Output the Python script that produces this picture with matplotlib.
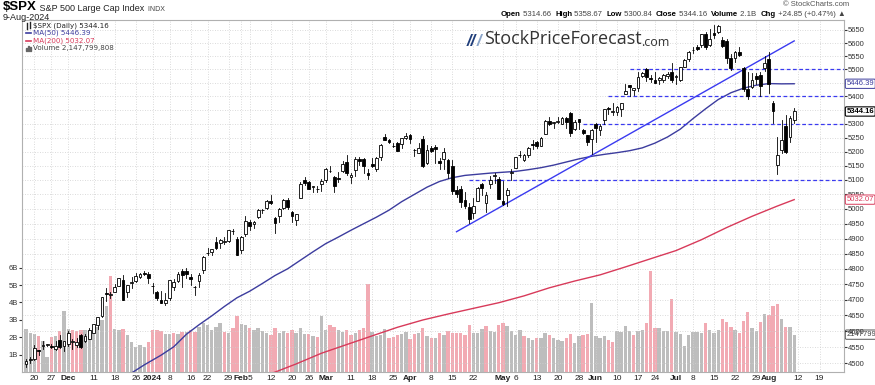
import numpy as np
import pandas as pd
import matplotlib
matplotlib.use('Agg')
import matplotlib.pyplot as plt
from matplotlib.patches import Rectangle
from matplotlib.lines import Line2D

plt.rcParams['font.family'] = ['Liberation Sans', 'DejaVu Sans']

# --- trading days ---
holidays = ['2023-11-23', '2023-12-25', '2024-01-01', '2024-01-15', '2024-02-19',
            '2024-03-29', '2024-05-27', '2024-06-19', '2024-07-04']
days = pd.bdate_range('2023-11-16', '2024-08-30', freq='C', holidays=holidays)

# --- daily OHLC ($SPX) ---
opens = [4497.08, 4509.55, 4511.70, 4538.77, 4553.04, 4555.84, 4554.86, 4545.55, 4571.84, 4554.87,
         4559.43, 4564.37, 4557.25, 4586.23, 4568.84, 4576.20, 4593.39, 4618.30, 4646.20, 4721.04,
         4714.23, 4725.58, 4743.72, 4764.73, 4724.29, 4753.92, 4758.86, 4773.45, 4786.44, 4782.88,
         4745.20, 4725.07, 4697.42, 4690.57, 4703.70, 4741.93, 4759.94, 4792.13, 4791.18, 4772.35,
         4739.13, 4760.10, 4796.28, 4853.42, 4856.80, 4888.56, 4886.66, 4888.91, 4892.95, 4925.89,
         4899.19, 4861.11, 4916.06, 4957.19, 4950.16, 4973.05, 4995.16, 5004.17, 5026.83, 4967.94,
         4976.44, 5003.14, 5031.13, 4989.32, 4963.03, 5038.83, 5100.92, 5093.00, 5074.60, 5067.20,
         5085.36, 5098.51, 5130.99, 5110.52, 5108.03, 5132.38, 5164.46, 5111.96, 5134.30, 5173.49,
         5175.14, 5123.31, 5154.77, 5139.09, 5181.69, 5253.43, 5242.48, 5219.52, 5228.85, 5226.31,
         5248.03, 5257.97, 5204.29, 5194.37, 5244.05, 5158.95, 5211.37, 5217.03, 5167.88, 5172.95,
         5171.51, 5149.67, 5064.59, 5068.97, 5031.52, 5005.44, 4987.33, 5028.85, 5084.65, 5019.88,
         5084.65, 5114.13, 5103.78, 5029.03, 5049.32, 5122.78, 5142.42, 5187.20, 5168.98, 5189.03,
         5225.49, 5233.08, 5221.10, 5263.26, 5310.07, 5303.10, 5305.35, 5298.69, 5319.28, 5340.26,
         5281.45, 5315.91, 5278.73, 5259.77, 5243.21, 5297.15, 5278.24, 5314.48, 5357.80, 5343.81,
         5341.22, 5353.00, 5409.13, 5441.93, 5424.08, 5431.11, 5476.15, 5499.99, 5466.77, 5459.58,
         5460.73, 5460.71, 5473.59, 5488.48, 5471.08, 5461.84, 5507.44, 5537.91, 5572.75, 5584.24,
         5591.26, 5635.21, 5590.76, 5638.16, 5644.09, 5610.07, 5608.56, 5543.37, 5544.86, 5565.30,
         5505.84, 5428.70, 5433.67, 5476.55, 5478.73, 5505.59, 5537.84, 5376.63, 5151.14, 5206.42,
         5293.13, 5252.57, 5314.66]
highs = [4511.99, 4520.12, 4557.11, 4542.14, 4568.43, 4560.31, 4560.52, 4568.14, 4587.64, 4569.89,
         4599.39, 4574.06, 4578.56, 4590.74, 4590.92, 4609.23, 4623.71, 4643.93, 4709.69, 4738.57,
         4725.53, 4749.52, 4768.69, 4778.01, 4748.71, 4772.94, 4784.72, 4785.39, 4793.30, 4788.43,
         4754.33, 4729.29, 4726.78, 4721.49, 4764.54, 4765.47, 4790.80, 4798.50, 4802.40, 4782.34,
         4744.23, 4785.79, 4842.07, 4868.41, 4866.48, 4903.68, 4898.15, 4906.69, 4929.31, 4931.09,
         4906.75, 4906.97, 4975.29, 4963.44, 4957.77, 4999.89, 5000.40, 5030.06, 5048.39, 4971.30,
         5002.52, 5032.72, 5038.70, 4993.71, 4983.21, 5094.39, 5111.06, 5097.66, 5080.69, 5077.37,
         5104.99, 5140.33, 5149.67, 5114.54, 5127.97, 5165.62, 5189.26, 5124.66, 5179.87, 5179.14,
         5176.85, 5136.86, 5175.60, 5180.31, 5226.19, 5261.10, 5246.09, 5229.09, 5235.16, 5249.26,
         5264.85, 5263.95, 5208.34, 5228.75, 5256.59, 5222.18, 5219.57, 5224.81, 5178.43, 5211.78,
         5175.03, 5168.43, 5079.84, 5077.96, 5056.66, 5019.02, 5038.84, 5076.12, 5089.48, 5057.75,
         5114.62, 5123.49, 5110.83, 5096.12, 5073.21, 5139.12, 5181.00, 5200.23, 5191.95, 5215.30,
         5239.66, 5237.26, 5250.37, 5311.76, 5325.49, 5305.45, 5325.32, 5324.32, 5323.18, 5341.88,
         5311.65, 5315.91, 5282.27, 5260.21, 5280.33, 5302.11, 5298.80, 5354.16, 5362.35, 5375.08,
         5365.79, 5375.95, 5447.25, 5441.93, 5432.39, 5488.50, 5490.38, 5505.53, 5478.31, 5490.66,
         5472.88, 5483.14, 5490.81, 5523.64, 5479.55, 5509.69, 5539.27, 5570.33, 5583.11, 5590.75,
         5635.39, 5642.45, 5655.56, 5670.39, 5669.67, 5622.49, 5614.05, 5557.50, 5570.36, 5585.34,
         5508.04, 5491.59, 5488.32, 5487.74, 5489.46, 5551.51, 5566.16, 5383.89, 5250.89, 5312.34,
         5330.64, 5328.03, 5358.67]
lows = [4487.83, 4499.66, 4510.36, 4525.51, 4545.05, 4552.80, 4546.32, 4540.51, 4547.15, 4537.24,
        4554.71, 4544.48, 4551.68, 4546.50, 4565.22, 4574.06, 4593.39, 4608.09, 4643.23, 4694.34,
        4704.69, 4725.58, 4743.72, 4697.82, 4708.35, 4736.77, 4758.45, 4768.90, 4780.98, 4751.99,
        4722.67, 4699.71, 4687.53, 4682.11, 4699.82, 4730.35, 4756.20, 4739.58, 4768.98, 4747.12,
        4714.82, 4740.57, 4785.87, 4844.05, 4844.37, 4865.94, 4869.34, 4881.47, 4887.40, 4916.27,
        4845.15, 4853.52, 4907.99, 4927.41, 4934.88, 4969.05, 4987.09, 5000.34, 5016.83, 4920.31,
        4956.45, 4999.44, 4999.52, 4955.02, 4946.00, 5038.83, 5081.46, 5068.91, 5057.29, 5058.35,
        5061.89, 5094.16, 5127.18, 5056.82, 5092.22, 5128.21, 5117.50, 5091.14, 5114.48, 5151.88,
        5123.30, 5104.35, 5145.47, 5131.59, 5171.55, 5240.66, 5229.87, 5216.09, 5203.42, 5213.92,
        5245.82, 5229.20, 5184.05, 5194.37, 5146.06, 5157.21, 5197.35, 5160.78, 5138.70, 5138.77,
        5107.94, 5052.47, 5039.83, 5007.25, 5001.89, 4953.56, 4969.40, 5027.96, 5047.02, 4990.58,
        5073.14, 5088.65, 5035.31, 5013.45, 5011.05, 5101.22, 5142.42, 5178.96, 5165.86, 5180.41,
        5209.68, 5211.16, 5217.98, 5263.26, 5296.19, 5283.59, 5302.40, 5297.87, 5286.01, 5256.93,
        5278.39, 5280.89, 5262.70, 5222.10, 5191.68, 5234.32, 5257.63, 5297.64, 5335.36, 5331.33,
        5331.52, 5327.25, 5409.13, 5402.51, 5403.75, 5420.40, 5471.32, 5455.56, 5452.03, 5447.59,
        5446.56, 5451.87, 5467.54, 5451.12, 5446.53, 5458.43, 5507.42, 5531.63, 5562.51, 5574.57,
        5586.44, 5576.53, 5590.44, 5619.85, 5639.02, 5584.81, 5522.81, 5497.04, 5529.04, 5550.90,
        5419.98, 5390.95, 5430.70, 5444.44, 5401.54, 5493.75, 5410.42, 5302.03, 5119.26, 5193.56,
        5195.54, 5233.85, 5300.84]
closes = [4508.24, 4514.02, 4547.38, 4538.19, 4556.62, 4559.34, 4550.43, 4554.89, 4550.58, 4567.80,
          4594.63, 4569.78, 4567.18, 4549.34, 4585.59, 4604.37, 4622.44, 4643.70, 4707.09, 4719.55,
          4719.19, 4740.56, 4768.37, 4698.35, 4746.75, 4754.63, 4774.75, 4781.58, 4783.35, 4769.83,
          4742.83, 4704.81, 4688.68, 4697.24, 4763.54, 4756.50, 4783.45, 4780.24, 4783.83, 4765.98,
          4739.21, 4780.94, 4839.81, 4850.43, 4864.60, 4868.55, 4894.16, 4890.97, 4927.93, 4924.97,
          4845.65, 4906.19, 4958.61, 4942.81, 4954.23, 4995.06, 4997.91, 5026.61, 5021.84, 4953.17,
          5000.62, 5029.73, 5005.57, 4975.51, 4981.80, 5087.03, 5088.80, 5069.53, 5078.18, 5069.76,
          5096.27, 5137.08, 5130.95, 5078.65, 5104.76, 5157.36, 5123.69, 5117.94, 5175.27, 5165.31,
          5150.48, 5117.09, 5149.42, 5178.51, 5224.62, 5241.53, 5234.18, 5218.19, 5203.58, 5248.49,
          5254.35, 5243.77, 5205.81, 5211.49, 5147.21, 5204.34, 5202.39, 5209.91, 5160.64, 5199.06,
          5123.41, 5061.82, 5051.41, 5022.21, 5011.12, 4967.23, 5010.60, 5070.55, 5071.63, 5048.42,
          5099.96, 5116.17, 5035.69, 5018.39, 5064.20, 5127.79, 5180.74, 5187.70, 5187.67, 5214.08,
          5222.68, 5221.42, 5246.68, 5308.15, 5297.10, 5303.27, 5308.13, 5321.41, 5307.01, 5267.84,
          5304.72, 5306.04, 5266.95, 5235.48, 5277.51, 5283.40, 5291.34, 5354.03, 5352.96, 5346.99,
          5360.79, 5375.32, 5421.03, 5433.74, 5431.60, 5473.23, 5487.03, 5473.17, 5464.62, 5447.87,
          5469.30, 5477.90, 5482.87, 5460.48, 5475.09, 5509.01, 5537.02, 5567.19, 5572.85, 5576.98,
          5633.91, 5584.54, 5615.35, 5631.22, 5667.20, 5588.27, 5544.59, 5505.00, 5564.41, 5555.74,
          5427.13, 5399.22, 5459.10, 5463.54, 5436.44, 5522.30, 5446.68, 5346.56, 5186.33, 5240.03,
          5199.50, 5319.31, 5344.16]
# volume, billions
volume = [2.48, 2.26, 2.2, 2.05, 1.77, 0.87, 2.0, 2.06, 2.38, 3.5,
          2.5, 2.4, 2.35, 2.4, 2.4, 2.4, 2.45, 2.6, 3.0, 3.8,
          5.5, 2.5, 2.4, 2.5, 2.1, 1.75, 1.45, 1.55, 1.45, 1.75,
          2.4, 2.4, 2.35, 2.2, 2.2, 2.25, 2.2, 2.3, 2.3, 2.4,
          2.3, 2.6, 2.8, 2.7, 2.4, 2.6, 2.82, 2.3, 2.25, 2.53,
          3.2, 2.76, 2.69, 2.53, 2.44, 2.53, 2.34, 2.25, 2.15, 2.53,
          2.25, 2.34, 2.25, 2.44, 2.25, 2.53, 2.2, 2.2, 2.05, 2.0,
          3.24, 2.4, 2.69, 2.57, 2.44, 2.3, 2.44, 2.11, 2.25, 2.4,
          2.53, 5.08, 2.3, 2.05, 2.15, 2.48, 1.96, 2.0, 2.15, 2.2,
          2.3, 1.9, 2.2, 2.25, 2.53, 2.09, 1.96, 1.96, 2.25, 2.15,
          2.35, 2.25, 2.25, 2.22, 2.12, 2.68, 2.25, 2.25, 2.5, 2.63,
          2.34, 2.3, 2.72, 2.82, 2.63, 2.34, 2.15, 2.44, 2.05, 1.96,
          1.86, 1.96, 1.96, 2.25, 2.12, 1.96, 1.86, 1.77, 1.96, 2.19,
          1.67, 2.05, 2.15, 2.19, 3.97, 2.05, 1.96, 2.05, 1.86, 1.73,
          2.38, 2.3, 2.67, 2.34, 2.15, 2.34, 2.43, 2.8, 5.79, 2.53,
          2.53, 2.38, 2.38, 4.22, 2.3, 2.2, 1.5, 2.1, 2.3, 2.3,
          2.25, 2.8, 2.43, 2.25, 2.43, 3.06, 2.88, 2.58, 2.43, 2.25,
          2.92, 3.43, 2.53, 2.34, 2.88, 3.33, 3.25, 3.82, 3.9, 3.06,
          2.58, 2.57, 2.1478]

# moving averages
ma50_dates = ['2023-12-21', '2023-12-28', '2024-01-04', '2024-01-09', '2024-01-12', '2024-01-18',
              '2024-01-23', '2024-01-26', '2024-01-31', '2024-02-05', '2024-02-08', '2024-02-13',
              '2024-02-16', '2024-02-22', '2024-02-27', '2024-03-01', '2024-03-06', '2024-03-11',
              '2024-03-14', '2024-03-19', '2024-03-22', '2024-03-27', '2024-04-02', '2024-04-05',
              '2024-04-10', '2024-04-15', '2024-04-18', '2024-04-23', '2024-04-26', '2024-05-01',
              '2024-05-06', '2024-05-09', '2024-05-14', '2024-05-17', '2024-05-22', '2024-05-28',
              '2024-05-31', '2024-06-05', '2024-06-10', '2024-06-13', '2024-06-18', '2024-06-24',
              '2024-06-27', '2024-07-02', '2024-07-08', '2024-07-11', '2024-07-16', '2024-07-19',
              '2024-07-24', '2024-07-29', '2024-08-01', '2024-08-06', '2024-08-09']
ma50_vals = [4462, 4495, 4525, 4551, 4590, 4620, 4648, 4678, 4706, 4727, 4752, 4778, 4800, 4828,
             4856, 4883, 4905, 4928, 4950, 4972, 4996, 5025, 5050, 5075, 5095, 5108, 5116, 5120,
             5124, 5127, 5130, 5136, 5143, 5152, 5163, 5174, 5183, 5190, 5196, 5203, 5213, 5230,
             5252, 5280, 5318, 5354, 5388, 5413, 5430, 5441, 5447, 5446, 5446.39]
ma200_dates = ['2024-02-12', '2024-02-21', '2024-02-29', '2024-03-08', '2024-03-18', '2024-03-26',
               '2024-04-04', '2024-04-12', '2024-04-22', '2024-04-30', '2024-05-08', '2024-05-16',
               '2024-05-24', '2024-06-04', '2024-06-12', '2024-06-21', '2024-07-01', '2024-07-10',
               '2024-07-18', '2024-07-26', '2024-08-05', '2024-08-09']
ma200_vals = [4468, 4498, 4531, 4558, 4585, 4612, 4635, 4654, 4672, 4690, 4712, 4738, 4760, 4780,
              4806, 4833, 4860, 4896, 4937, 4975, 5010, 5032.07]

# analyst lines
trend_dates = ['2024-04-16', '2024-08-09']
trend_vals = [4923, 5608]
level_vals = [5500, 5400, 5300, 5100]
level_start = ['2024-06-13', '2024-06-06', '2024-05-29', '2024-04-19']

tick_dates = ['2023-11-20', '2023-11-27', '2023-12-01', '2023-12-11', '2023-12-18', '2023-12-26',
              '2024-01-02', '2024-01-08', '2024-01-16', '2024-01-22', '2024-01-29', '2024-02-01',
              '2024-02-05', '2024-02-12', '2024-02-20', '2024-02-26', '2024-03-01', '2024-03-11',
              '2024-03-18', '2024-03-25', '2024-04-01', '2024-04-08', '2024-04-15', '2024-04-22',
              '2024-05-01', '2024-05-06', '2024-05-13', '2024-05-20', '2024-05-28', '2024-06-03',
              '2024-06-10', '2024-06-17', '2024-06-24', '2024-07-01', '2024-07-08', '2024-07-15',
              '2024-07-22', '2024-07-29', '2024-08-01', '2024-08-12', '2024-08-19']
tick_labels = ['20', '27', 'Dec', '11', '18', '26', '2024', '8', '16', '22', '29', 'Feb', '5', '12',
               '20', '26', 'Mar', '11', '18', '25', 'Apr', '8', '15', '22', 'May', '6', '13', '20',
               '28', 'Jun', '10', '17', '24', 'Jul', '8', '15', '22', '29', 'Aug', '12', '19']
price_ticks = list(range(4500, 5651, 50))
hidden_ticks = [5450, 5350]   # covered by the value tags


def idx(d):
    return days.get_loc(pd.Timestamp(d))


n = len(closes)
x = np.arange(n)

W, H = 875, 385
L, R, T, B = 22, 844, 20, 372
rect = [L / W, 1 - B / H, (R - L) / W, (B - T) / H]
fig = plt.figure(figsize=(W / 100, H / 100), dpi=100)
axv = fig.add_axes(rect)
ax = fig.add_axes(rect, sharex=axv)
ax.patch.set_alpha(0)

# volume
prev = np.r_[closes[0], closes[:-1]]
vcol = np.where(np.array(closes) < prev, '#f2aab3', '#bdbdbd')
axv.bar(x, volume, width=0.8, color=vcol, linewidth=0)
axv.set_ylim(0, (B - T) / 17.4)
axv.set_yticks([1, 2, 3, 4, 5, 6], ['1B', '2B', '3B', '4B', '5B', '6B'])
axv.tick_params(axis='y', labelsize=5.5, length=2, colors='#333333', pad=1)
axv.tick_params(axis='x', bottom=False, labelbottom=False)
for s in axv.spines.values():
    s.set_visible(False)

# price panel
ax.set_yscale('log')
ax.set_ylim(4473.3, 5688.7)
ax.set_xlim(-0.95, 193.8)
ax.yaxis.tick_right()
ax.set_yticks(price_ticks, ['' if p in hidden_ticks else str(p) for p in price_ticks])
ax.yaxis.set_minor_locator(matplotlib.ticker.NullLocator())
ax.tick_params(axis='y', labelsize=5.5, length=2, colors='#333333', pad=1)
ax.set_xticks([idx(d) for d in tick_dates], tick_labels)
ax.tick_params(axis='x', labelsize=6, length=0, pad=2, colors='#222222')
for t in ax.get_xticklabels():
    if not t.get_text().isdigit() or t.get_text() == '2024':
        t.set_fontweight('bold')
ax.grid(True, color='#cfcfcf', linestyle=(0, (1, 2)), linewidth=0.6)
for s in ax.spines.values():
    s.set_color('#b0b0b0')
    s.set_linewidth(0.8)

# moving averages
ax.plot([idx(d) for d in ma200_dates], ma200_vals, color='#d83a5a', lw=1.0, zorder=3)
ax.plot([idx(d) for d in ma50_dates], ma50_vals, color='#3c3c9e', lw=1.0, zorder=3)

# analyst lines
ax.plot([idx(d) for d in trend_dates], trend_vals, color='#3a3af0', lw=1.0, zorder=3)
for v, d in zip(level_vals, level_start):
    ax.plot([idx(d), 193.8], [v, v], color='#3a3af0', lw=0.9, ls=(0, (3, 2)), zorder=3)

# candles
for i in range(n):
    o, h, l, c = opens[i], highs[i], lows[i], closes[i]
    ax.plot([i, i], [l, h], color='black', lw=0.6, zorder=4)
    lo, hi = min(o, c), max(o, c)
    if hi - lo < 1.5:
        hi = lo + 1.5
    ax.add_patch(Rectangle((i - 0.33, lo), 0.66, hi - lo, facecolor='white' if c >= o else 'black',
                           edgecolor='black', lw=0.6, zorder=5))

# right-edge value tags
ytr = ax.get_yaxis_transform()
ax.text(1.003, ma50_vals[-1], '%.2f' % ma50_vals[-1], transform=ytr, fontsize=5.5, color='#3c3c9e',
        va='center', ha='left', zorder=10,
        bbox=dict(boxstyle='round,pad=0.15', fc='white', ec='#3c3c9e', lw=0.7))
ax.text(1.003, closes[-1], '%.2f' % closes[-1], transform=ytr, fontsize=5.5, color='black',
        fontweight='bold', va='center', ha='left', zorder=10,
        bbox=dict(boxstyle='round,pad=0.15', fc='white', ec='black', lw=0.8))
ax.text(1.003, ma200_vals[-1], '%.2f' % ma200_vals[-1], transform=ytr, fontsize=5.5, color='#d83a5a',
        va='center', ha='left', zorder=10,
        bbox=dict(boxstyle='round,pad=0.15', fc='white', ec='#d83a5a', lw=0.7))
axv.text(1.003, volume[-1], '2147799808', transform=axv.get_yaxis_transform(), fontsize=5.5,
         color='#444444', va='center', ha='left', zorder=10,
         bbox=dict(boxstyle='round,pad=0.15', fc='white', ec='#555555', lw=0.7))


# header
def ftext(px, py, s, **kw):
    return fig.text(px / W, 1 - py / H, s, va='center', **kw)


t = ftext(3, 7, '$SPX', fontsize=9.5, fontweight='bold', color='black')
t = ax.annotate(' S&P 500 Large Cap Index', xy=(1, 0), xycoords=t, va='bottom', fontsize=6.5,
                color='#222222')
ax.annotate('  INDX', xy=(1, 0), xycoords=t, va='bottom', fontsize=5, color='#444444')
ftext(3, 17, '9-Aug-2024', fontsize=6.5, color='#222222')

ftext(849, 5, '\u00a9 StockCharts.com', fontsize=5.5, color='#555555', ha='right')
parts = [('Open', True), (' 5314.66  ', False), ('High', True), (' 5358.67  ', False), ('Low', True),
         (' 5300.84  ', False), ('Close', True), (' 5344.16  ', False), ('Volume', True),
         (' 2.1B  ', False), ('Chg', True), (' +24.85 (+0.47%) \u25b2', False)]
t = ftext(501, 15, parts[0][0], fontsize=5.6, fontweight='bold', color='black')
for s, b in parts[1:]:
    t = ax.annotate(s, xy=(1, 0), xycoords=t, va='bottom', fontsize=5.6,
                    fontweight='bold' if b else 'normal', color='black' if b else '#444444')

# legend
lg = [(25.5, '$SPX (Daily) 5344.16', '#222222'), (33, 'MA(50) 5446.39', '#3c3c9e'),
      (40.5, 'MA(200) 5032.07', '#d83a5a'), (48, 'Volume 2,147,799,808', '#444444')]
for py, s, c in lg:
    ftext(33, py, s, fontsize=5.1, color=c, family=['DejaVu Sans'])
fig.add_artist(Line2D([26 / W, 31 / W], [1 - 33 / H] * 2, color='#3c3c9e', lw=1.2))
fig.add_artist(Line2D([26 / W, 31 / W], [1 - 40.5 / H] * 2, color='#d83a5a', lw=1.2))
for k, hgt in enumerate([3, 5, 4]):
    fig.add_artist(Rectangle(((26 + 2 * k) / W, 1 - 51 / H), 1.4 / W, hgt / H, color='#666666'))
for k, (y0, y1) in enumerate([(23, 29), (22, 28)]):
    fig.add_artist(Line2D([(27 + 2.5 * k) / W] * 2, [1 - y0 / H, 1 - y1 / H], color='#222222', lw=1))

# watermark
t = ftext(467, 41, '//', fontsize=12, fontweight='bold', style='italic', color='#1f3d7a')
t = ax.annotate('/', xy=(1, 0), xycoords=t, va='bottom', fontsize=12, fontweight='bold',
                style='italic', color='#8aa4c8')
t = ax.annotate('StockPriceForecast', xy=(1, 0), xycoords=t, xytext=(2, 0), textcoords='offset points',
                va='bottom', fontsize=13, color='#333333', family=['Open Sans', 'DejaVu Sans'])
ax.annotate('.com', xy=(1, 0), xycoords=t, va='bottom', fontsize=9, color='#333333',
            family=['Open Sans', 'DejaVu Sans'])

fig.savefig('out.png', dpi=100)
